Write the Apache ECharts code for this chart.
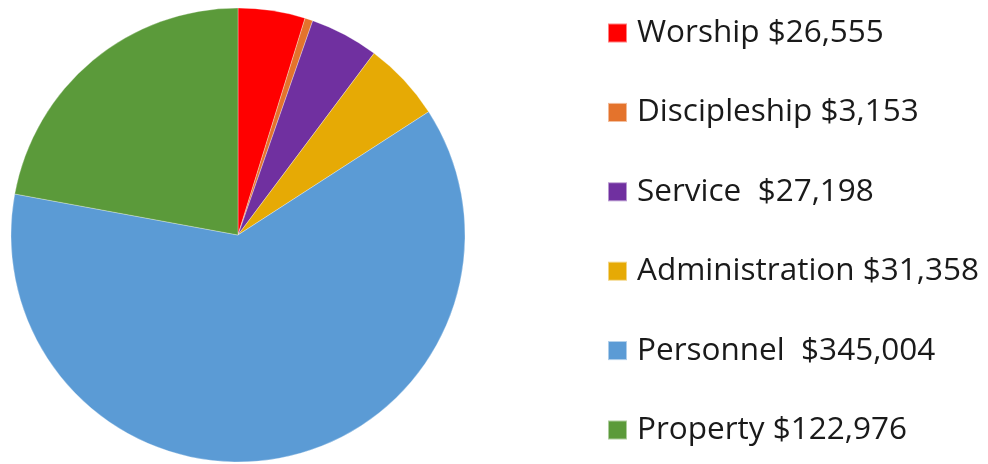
<!DOCTYPE html>
<html>
<head>
<meta charset="utf-8">
<script src="https://cdn.jsdelivr.net/npm/echarts@6/dist/echarts.min.js"></script>
<style>
html,body{margin:0;padding:0;background:#fff;}
#chart{width:988px;height:464px;}
</style>
</head>
<body>
<div id="chart"></div>
<script>
const categories = ["Worship", "Discipleship", "Service ", "Administration", "Personnel ", "Property"];
const amounts = [26555, 3153, 27198, 31358, 345004, 122976];
const colors = ["#ff0000", "#e4732c", "#7030a0", "#e6aa05", "#5b9bd5", "#5b9a3a"];

const data = categories.map((c, i) => ({ name: c, value: amounts[i], itemStyle: { color: colors[i] } }));
const amountByName = {};
categories.forEach((c, i) => { amountByName[c] = amounts[i]; });

const chart = echarts.init(document.getElementById('chart'), null, { renderer: 'canvas' });
chart.setOption({
  animation: false,
  legend: {
    orient: 'vertical',
    left: 607,
    top: 17,
    padding: 0,
    itemWidth: 19,
    itemHeight: 19,
    itemGap: 47.4,
    icon: 'rect',
    textStyle: {
      fontFamily: 'Open Sans',
      fontSize: 31.5,
      color: '#1a1a1a',
      lineHeight: 20,
      padding: [0, 0, 0, 5]
    },
    formatter: function (name) {
      return name + ' $' + amountByName[name].toLocaleString('en-US');
    },
    selectedMode: false
  },
  series: [{
    type: 'pie',
    center: [238, 235],
    radius: 227,
    startAngle: 90,
    clockwise: true,
    label: { show: false },
    labelLine: { show: false },
    emphasis: { disabled: true },
    itemStyle: { borderColor: 'rgba(255,255,255,0.5)', borderWidth: 0.6 },
    data: data
  }]
});
</script>
</body>
</html>
